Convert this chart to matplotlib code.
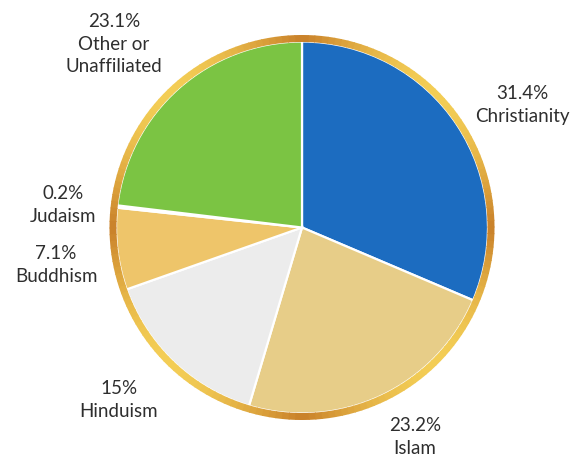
import numpy as np
import matplotlib.pyplot as plt
from matplotlib.patches import Wedge
from matplotlib.colors import to_rgb

# data
religions = ['Christianity', 'Islam', 'Hinduism', 'Buddhism', 'Judaism', 'Other or\nUnaffiliated']
shares = [31.4, 23.2, 15, 7.1, 0.2, 23.1]
share_text = ['31.4%', '23.2%', '15%', '7.1%', '0.2%', '23.1%']
colors = ['#1c6cc0', '#e7cd88', '#ececec', '#eec56a', '#dde6f2', '#7bc443']

# label anchor positions (pixels, y up)
label_pos = [(522, 351), (415, 19), (119, 56), (56, 191), (63, 251), (114, 412)]

W, H = 582, 456
fig = plt.figure(figsize=(W / 100, H / 100), dpi=100)
ax = fig.add_axes([0, 0, 1, 1])

cx, cy, r = 302, 227.5, 186

ax.pie(shares, colors=colors, startangle=90, counterclock=False,
       center=(cx, cy), radius=r, frame=True,
       wedgeprops=dict(edgecolor='white', linewidth=1.6))
ax.set_xlim(0, W)
ax.set_ylim(0, H)
ax.set_aspect('equal')
ax.axis('off')

# gold rim with light/dark shading
dark = np.array(to_rgb('#c98029'))
light = np.array(to_rgb('#f3cd55'))
for a in np.arange(0, 360, 2):
    t = abs(np.cos(np.radians(2 * (a + 1 - 45))))
    c = dark + (light - dark) * t
    ax.add_patch(Wedge((cx, cy), r + 6.5, a, a + 2.3, width=7, color=c, lw=0))

for name, pct, (x, y) in zip(religions, share_text, label_pos):
    ax.text(x, y, pct + '\n' + name, ha='center', va='center',
            fontsize=13.5, color='#2e2e2e', family='Lato', linespacing=1.38)

fig.savefig('out.png', dpi=100)
